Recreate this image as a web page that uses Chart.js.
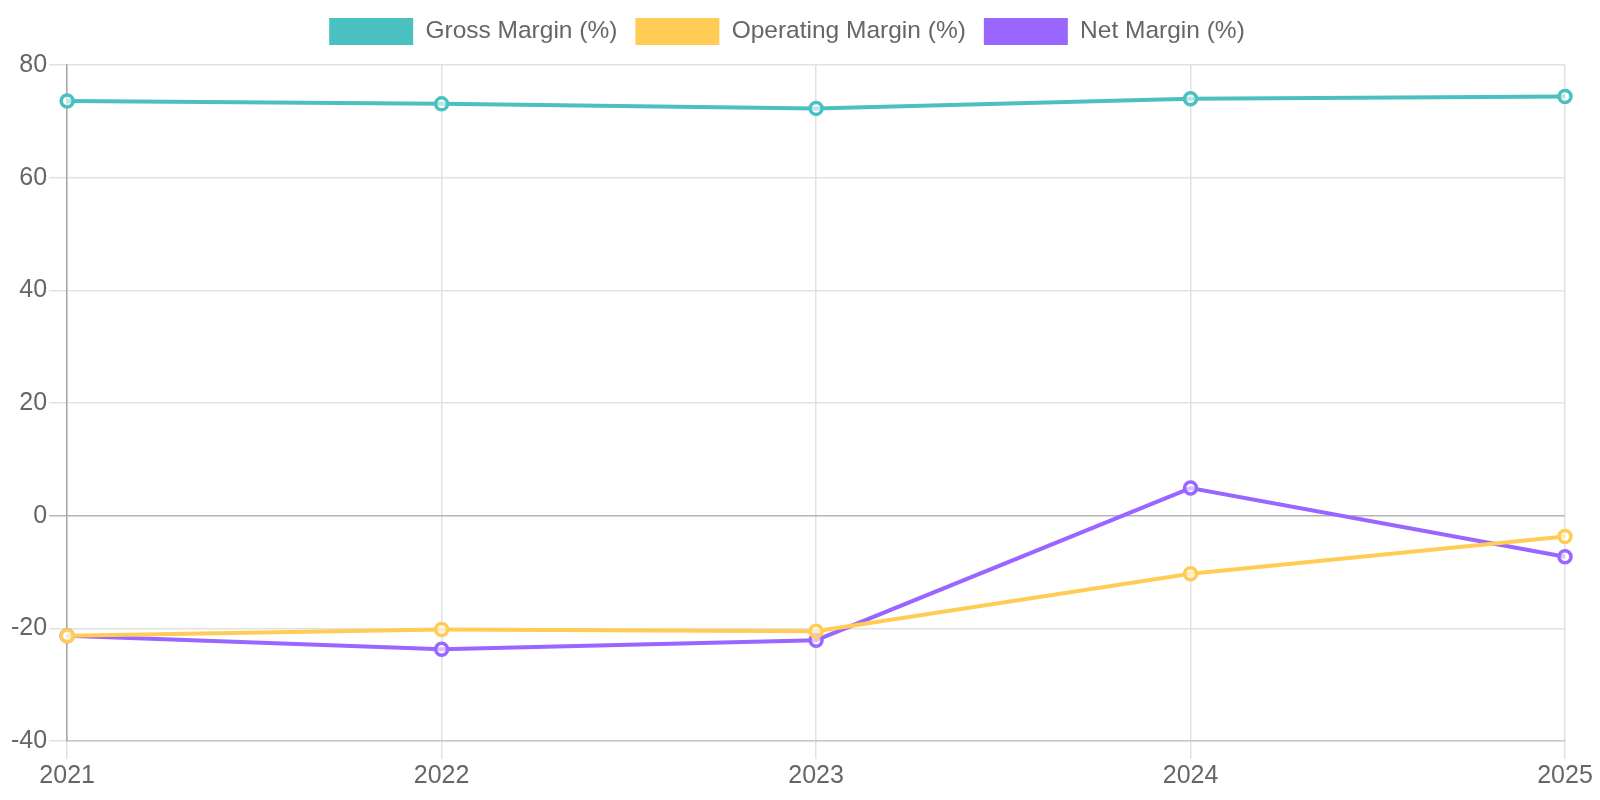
<!DOCTYPE html>
<html>
<head>
<meta charset="utf-8">
<script src="https://cdn.jsdelivr.net/npm/chart.js@4"></script>
<style>
    html, body { margin: 0; padding: 0; background: #fff; }
    #wrap { position: absolute; left: 0; top: 0; width: 1600px; height: 800px; }
</style>
</head>
<body>
<div id="wrap"><canvas id="marginChart" width="1600" height="800"></canvas></div>
<script>
// Data
const years = ['2021', '2022', '2023', '2024', '2025'];
const grossMargin = [73.6, 73.1, 72.3, 74.0, 74.4];
const operatingMargin = [-21.3, -20.2, -20.5, -10.3, -3.7];
const netMargin = [-21.3, -23.7, -22.1, 4.9, -7.3];

document.addEventListener('DOMContentLoaded', () => {
    Chart.defaults.font.family = '"Liberation Sans", Arial, sans-serif';
    Chart.defaults.color = '#666';

    const ctx = document.getElementById('marginChart').getContext('2d');

    // a bit more room under the legend
    const legendGap = {
        id: 'legendGap',
        beforeInit(chart) {
            const origFit = chart.legend.fit;
            chart.legend.fit = function () {
                origFit.bind(chart.legend)();
                this.height += 10;
            };
        }
    };

    function lineSet(label, data, color) {
        return {
            label: label,
            data: data,
            borderColor: color,
            backgroundColor: color,
            borderWidth: 4,
            pointRadius: 6,
            pointBorderWidth: 3.5,
            pointBackgroundColor: 'rgba(255,255,255,0.6)',
            pointBorderColor: color,
            tension: 0
        };
    }

    new Chart(ctx, {
        type: 'line',
        data: {
            labels: years,
            datasets: [
                lineSet('Gross Margin (%)', grossMargin, '#4BC0C0'),
                lineSet('Operating Margin (%)', operatingMargin, '#FFCD56'),
                lineSet('Net Margin (%)', netMargin, '#9966FF')
            ]
        },
        options: {
            responsive: false,
            animation: false,
            layout: { padding: { left: 9, right: 35, top: 0, bottom: 7 } },
            plugins: {
                legend: {
                    labels: {
                        boxWidth: 84,
                        boxHeight: 27,
                        padding: 18,
                        font: { size: 24.5 },
                        generateLabels: (chart) => chart.data.datasets.map((ds, i) => ({
                            text: ds.label,
                            fillStyle: ds.borderColor,
                            strokeStyle: ds.borderColor,
                            lineWidth: 0,
                            fontColor: '#666',
                            datasetIndex: i
                        }))
                    }
                },
                tooltip: { enabled: false }
            },
            scales: {
                x: {
                    offset: false,
                    grid: { color: '#e2e2e2', lineWidth: 1.5, tickLength: 18 },
                    border: { color: '#c8c8c8', width: 1.5 },
                    ticks: { font: { size: 25 }, padding: 2, maxRotation: 0 }
                },
                y: {
                    min: -40,
                    max: 80,
                    ticks: { stepSize: 20, font: { size: 25 }, padding: 2 },
                    grid: {
                        tickLength: 18,
                        lineWidth: 1.5,
                        color: (c) => c.tick && c.tick.value === 0 ? '#b4b4b4' : '#e2e2e2'
                    },
                    border: { color: '#a8a8a8', width: 1.5 }
                }
            }
        },
        plugins: [legendGap]
    });
});
</script>
</body>
</html>
